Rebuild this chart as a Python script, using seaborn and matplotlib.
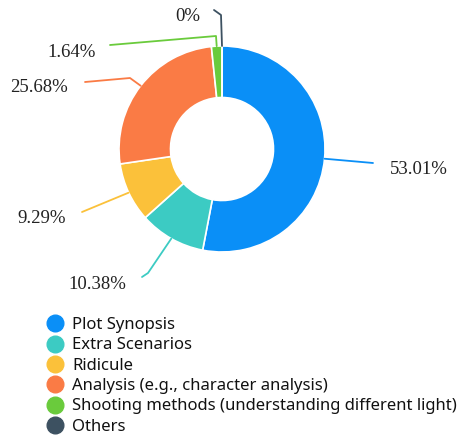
import matplotlib
matplotlib.use("Agg")
import matplotlib.pyplot as plt
from matplotlib.lines import Line2D
import numpy as np
import seaborn as sns

categories = ["Plot Synopsis", "Extra Scenarios", "Ridicule",
              "Analysis (e.g., character analysis)",
              "Shooting methods (understanding different light)", "Others"]
values = [53.01, 10.38, 9.29, 25.68, 1.64, 0.0]
pct_labels = ["53.01%", "10.38%", "9.29%", "25.68%", "1.64%", "0%"]
colors = ["#0a8ff7", "#3ccbc3", "#fbc13a", "#fa7b45", "#6acb3c", "#3d5161"]

sns.set_theme(style="white")
plt.rcParams["font.family"] = ["Noto Sans", "DejaVu Sans"]

W, H = 461, 440
fig = plt.figure(figsize=(W / 100, H / 100), dpi=100)
ax = fig.add_axes([0, 0, 1, 1])
ax.set_xlim(0, W)
ax.set_ylim(0, H)
ax.axis("off")

cx, cy_img, R = 222, 149, 103
cy = H - cy_img

wedges, _ = ax.pie(values, colors=colors, startangle=90, counterclock=False,
                   radius=R, center=(cx, cy), normalize=True,
                   wedgeprops=dict(width=R * 0.5, edgecolor="white", linewidth=1.2))
ax.set_xlim(0, W)
ax.set_ylim(0, H)
ax.set_aspect("auto")

def img(p):
    return (p[0], H - p[1])

# leader line waypoints (image px) and label anchors
leaders = [
    [(373, 163)],
    [(148, 273), (142, 277)],
    [(82, 212)],
    [(130, 78), (85, 82)],
    [(216, 36), (110, 45)],
    [(221, 15), (214, 10)],
]
label_pos = [(390, 169, "left"), (126, 284, "right"), (66, 218, "right"),
             (68, 87, "right"), (96, 52, "right"), (200, 16, "right")]

for w, pts, (lx, ly, ha), txt, col in zip(wedges, leaders, label_pos, pct_labels, colors):
    ang = np.deg2rad((w.theta1 + w.theta2) / 2)
    start = (cx + R * np.cos(ang), cy + R * np.sin(ang))
    path = [start] + [img(p) for p in pts]
    xs, ys = zip(*path)
    ax.plot(xs, ys, color=col, lw=1.3, solid_capstyle="round", solid_joinstyle="round")
    ax.text(lx, H - ly, txt, ha=ha, va="center", fontsize=13.5,
            family=["Liberation Serif", "DejaVu Serif"], color="#222222")

handles = [Line2D([0], [0], marker="o", color="none", markerfacecolor=c,
                  markeredgecolor=c, markersize=12) for c in colors]
fig.legend(handles, categories, loc="upper left", bbox_to_anchor=(42 / W, 1 - 317 / H),
           frameon=False, fontsize=12, handletextpad=0.2, labelspacing=0.26,
           handlelength=1.6, borderaxespad=0, borderpad=0, labelcolor="#111111")

fig.savefig("out.png", dpi=100, facecolor="white")
